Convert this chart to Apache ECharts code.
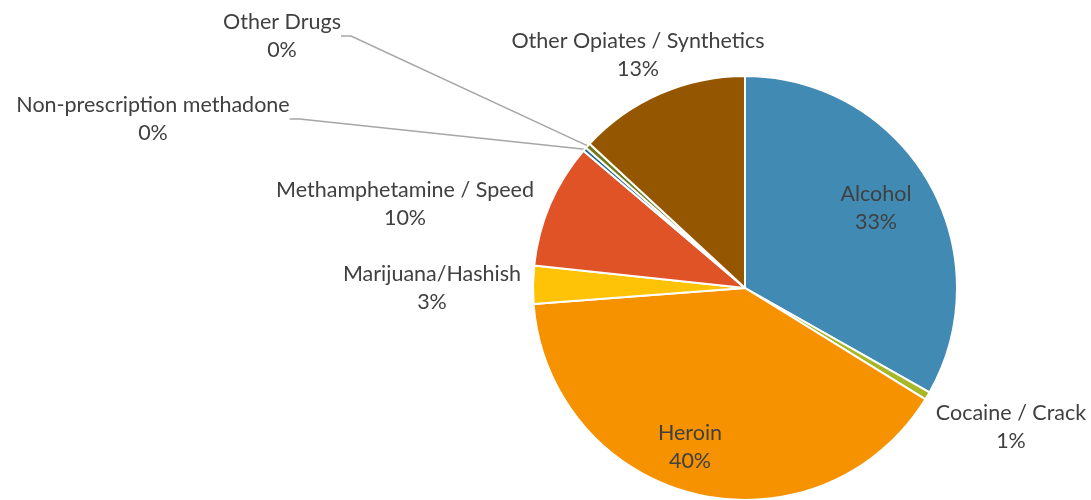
<!DOCTYPE html>
<html>
<head>
<meta charset="utf-8">
<script src="https://cdn.jsdelivr.net/npm/echarts@6/dist/echarts.min.js"></script>
<style>html,body{margin:0;padding:0;background:#fff;}#c{width:1091px;height:500px;}</style>
</head>
<body>
<div id="c"></div>
<script>
const categories = ['Alcohol', 'Cocaine / Crack', 'Heroin', 'Marijuana/Hashish', 'Methamphetamine / Speed', 'Non-prescription methadone', 'Other Drugs', 'Other Opiates / Synthetics'];
const values = [33.2, 0.6, 40.0, 2.9, 9.5, 0.3, 0.4, 13.1];
const colors = ['#418AB3', '#A6B727', '#F69200', '#FEC306', '#DF5327', '#276A8D', '#6F7B1B', '#955600'];
// label centre positions (text only)
const labelPos = [[876, 208], [1011, 427], [690, 447], [432, 288], [405, 204], [153, 119], [282, 36], [638, 55]];
const leaderLines = [false, false, false, false, false, true, true, false];

const chart = echarts.init(document.getElementById('c'), null, {renderer: 'canvas'});
chart.setOption({
  animation: false,
  backgroundColor: '#ffffff',
  series: [{
    type: 'pie',
    center: [745, 288],
    radius: [0, 212],
    startAngle: 90,
    clockwise: true,
    avoidLabelOverlap: false,
    percentPrecision: 0,
    itemStyle: {borderColor: '#ffffff', borderWidth: 2},
    label: {
      show: true,
      position: 'outside',
      formatter: '{b}\n{d}%',
      fontFamily: 'Lato',
      fontSize: 21.5,
      lineHeight: 28,
      color: '#404040',
      align: 'center'
    },
    labelLine: {show: false, lineStyle: {color: '#A6A6A6', width: 1.5}, length: 10, length2: 10},
    labelLayout: function (params) {
      const p = labelPos[params.dataIndex];
      return {x: p[0], y: p[1], align: 'center', verticalAlign: 'middle'};
    },
    emphasis: {disabled: true},
    data: categories.map((c, i) => ({
      name: c,
      value: values[i],
      itemStyle: {color: colors[i]},
      labelLine: {show: leaderLines[i]}
    }))
  }]
});
</script>
</body>
</html>
